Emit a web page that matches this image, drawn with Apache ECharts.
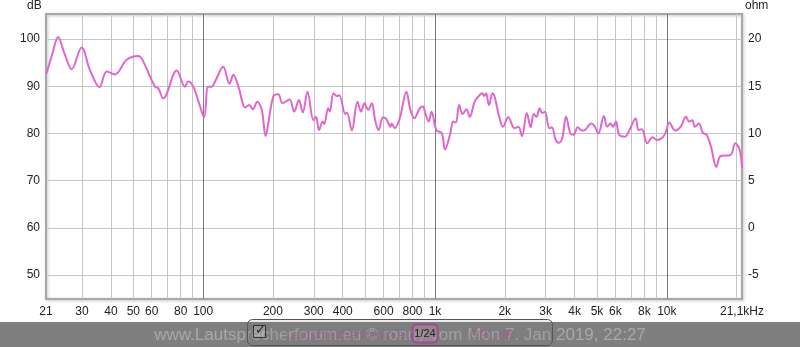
<!DOCTYPE html>
<html>
<head>
<meta charset="utf-8">
<title>Frequenzgang</title>
<script src="https://cdn.jsdelivr.net/npm/echarts@6/dist/echarts.min.js"></script>
<style>
  html, body { margin: 0; padding: 0; background: #fff; }
  #chart { width: 800px; height: 347px; }
</style>
</head>
<body>
<div id="chart"></div>
<script>
// Frequenz (Hz) und Pegel (dB)
var freqs = [21.1, 22.3, 23.7, 25.2, 27.1, 29.9, 32.5, 35.7, 38.4, 41.7, 46.8, 52.5, 54.3, 62, 64, 67.3, 76.9, 83.5, 86.3, 90.7,
  96, 101, 105, 109, 112.6, 122, 130, 135, 142, 152, 158, 164, 171, 179, 186, 191, 201, 211, 220, 236,
  247, 259, 269, 282, 299, 307, 316, 328, 333, 346, 352, 365, 377, 387, 410, 417, 438, 463, 480, 496,
  515, 534, 552, 571, 597, 617, 643, 650, 671, 705, 753, 783, 815, 859, 888, 908, 940, 966, 1016, 1069,
  1105, 1161, 1200, 1230, 1272, 1315, 1367, 1413, 1483, 1556, 1600, 1630, 1661, 1710, 1770, 1909, 1963, 2069, 2205, 2290,
  2373, 2490, 2585, 2669, 2740, 2827, 2900, 2982, 3110, 3190, 3318, 3425, 3540, 3675, 3835, 3959, 4127, 4290, 4430, 4719,
  4870, 5069, 5353, 5530, 5720, 5860, 6036, 6228, 6600, 6930, 7335, 7550, 7810, 8229, 8690, 9064, 9513, 9850, 10258, 10857,
  11470, 12100, 12470, 12890, 13210, 13750, 14300, 14850, 15500, 16360, 17070, 18810, 19740, 20620, 21100];
var spl = [92.7, 96.6, 100.4, 97, 93.6, 98.2, 93.4, 89.8, 93.1, 92.5, 95.6, 96.4, 95.9, 89.9, 89.6, 87.4, 93.3, 89.9, 91, 89.9,
  86.4, 83.4, 89.9, 89.9, 91, 94.1, 90.5, 92.4, 89.9, 85.5, 86, 85.1, 86.7, 85, 79.4, 82.1, 87.9, 88.3, 86.4, 87.2,
  84.6, 87.1, 84.4, 88.8, 82.8, 83.5, 80.7, 82.5, 82, 85.3, 84.6, 88.5, 87.9, 88.1, 84.1, 84.4, 80.6, 86.7, 84.6, 86.4,
  85, 86.4, 82.8, 80.7, 83.4, 83, 81.4, 82.1, 81.1, 83.2, 88.8, 85, 83.2, 85.3, 85.7, 84.3, 82.5, 84.6, 80.6, 80.1,
  76.6, 79.7, 82.5, 82.3, 86, 84.1, 85.1, 83.5, 86.7, 88.1, 88.5, 87.9, 88.5, 86, 88.5, 82.8, 81.4, 83.4, 81.1, 81.4,
  79.4, 84.3, 81.3, 84.1, 83.5, 85.3, 84.3, 84.6, 81.1, 81.3, 78.6, 78, 79, 83.6, 80, 79.7, 81.3, 80.6, 80.7, 82.1,
  81.6, 80, 83.7, 81.4, 82.1, 81.4, 82.5, 79.7, 79.3, 80.9, 83.2, 80.7, 80.9, 77.9, 79.2, 78.6, 79, 80, 82.3, 80.6,
  81.4, 83.5, 82.5, 82.8, 81.4, 82.1, 80.1, 79.7, 77.2, 72.9, 75.2, 75.4, 77.9, 76.5, 72.7];

// Achsenbeschriftungen
var xLabelValues = [21, 30, 40, 50, 60, 80, 100, 200, 300, 400, 600, 800, 1000, 2000, 3000, 4000, 5000, 6000, 8000, 10000, 21100];
var xGridValues = [30, 40, 50, 60, 70, 80, 90, 200, 300, 400, 500, 600, 700, 800, 900, 2000, 3000, 4000, 5000, 6000, 7000, 8000, 9000, 20000];
var xDecades = [100, 1000, 10000];
var dbTicks = [50, 60, 70, 80, 90, 100];
var ohmTicks = [-5, 0, 5, 10, 15, 20];

var dbMin = 44.9, dbMax = 105.3;

var chart = echarts.init(document.getElementById('chart'));

var points = [];
for (var i = 0; i < freqs.length; i++) {
    points.push([freqs[i], spl[i]]);
}

var font = 'Liberation Sans, Arial, sans-serif';

var option = {
    animation: false,
    grid: {
        left: 46, right: 58, top: 14, bottom: 48,
        show: true,
        borderColor: '#a8a8a8',
        borderWidth: 2,
        shadowColor: 'rgba(0,0,0,0.25)',
        shadowBlur: 3,
        shadowOffsetX: 1,
        shadowOffsetY: 1
    },
    xAxis: [
        {
            type: 'log', min: 21, max: 21100,
            axisLine: { show: false },
            axisTick: { show: false, customValues: xGridValues },
            axisLabel: {
                customValues: xLabelValues,
                margin: 7,
                color: '#222',
                fontSize: 12,
                fontFamily: font,
                formatter: function (v) {
                    if (v > 21000) return '21,1kHz';
                    if (v >= 1000) return (v / 1000) + 'k';
                    return String(Math.round(v));
                }
            },
            splitLine: { show: true, lineStyle: { color: '#c4c4c4', width: 1 } }
        },
        {
            type: 'log', min: 21, max: 21100,
            position: 'bottom',
            axisLine: { show: false },
            axisTick: { show: false, customValues: xDecades },
            axisLabel: { show: false },
            splitLine: { show: true, lineStyle: { color: '#7a7a7a', width: 1 } }
        }
    ],
    yAxis: [
        {
            type: 'value', min: dbMin, max: dbMax,
            axisLine: { show: false },
            axisTick: { show: false, customValues: dbTicks },
            axisLabel: { customValues: dbTicks, margin: 6, color: '#222', fontSize: 12, fontFamily: font },
            splitLine: { show: true, lineStyle: { color: '#c4c4c4', width: 1 } }
        },
        {
            type: 'value', min: (dbMin - 60) / 2, max: (dbMax - 60) / 2,
            position: 'right',
            axisLine: { show: false },
            axisTick: { show: false, customValues: ohmTicks },
            axisLabel: { customValues: ohmTicks, margin: 6, color: '#222', fontSize: 12, fontFamily: font },
            splitLine: { show: false }
        }
    ],
    series: [
        {
            name: 'SPL',
            type: 'line',
            data: points,
            smooth: 0.35,
            showSymbol: false,
            lineStyle: { color: '#e066cc', width: 2 },
            itemStyle: { color: '#e066cc' }
        }
    ],
    graphic: [
        { type: 'text', left: 27, top: 0, style: { text: 'dB', fill: '#222', font: '12px ' + font } },
        { type: 'text', left: 745, top: 0, style: { text: 'ohm', fill: '#222', font: '12px ' + font } },
        { type: 'rect', shape: { x: 0, y: 322, width: 800, height: 25 }, style: { fill: '#7f7f7f' }, z: 10 },
        {
            type: 'text', x: 400, y: 335, z: 11,
            style: {
                text: 'www.Lautsprecherforum.eu © ronny vom Mon 7. Jan 2019, 22:27',
                fill: '#a9a9a9', font: '17px ' + font, align: 'center', verticalAlign: 'middle'
            }
        },
        {
            type: 'rect', z: 12,
            shape: { x: 247.5, y: 319.5, width: 305, height: 26, r: 5 },
            style: { fill: 'rgba(120,120,120,0.15)', stroke: '#555', lineWidth: 1 }
        },
        {
            type: 'rect', z: 13,
            shape: { x: 253.5, y: 325.5, width: 12, height: 12 },
            style: { fill: 'rgba(255,255,255,0.2)', stroke: '#333', lineWidth: 1 }
        },
        {
            type: 'text', x: 255, y: 331, z: 14,
            style: { text: '✓', fill: '#222', font: 'bold 13px DejaVu Sans', verticalAlign: 'middle' }
        },
        {
            type: 'text', x: 285, y: 335, z: 13,
            style: { text: 'Lautsprecherforum.eu', fill: 'rgba(170,80,150,0.55)', font: '13px ' + font, verticalAlign: 'middle' }
        },
        {
            type: 'rect', z: 13,
            shape: { x: 412.5, y: 324.5, width: 25, height: 18, r: 4 },
            style: { fill: 'rgba(170,140,160,0.5)', stroke: '#a04a90', lineWidth: 2 }
        },
        {
            type: 'text', x: 425, y: 334, z: 14,
            style: { text: '1/24', fill: '#222', font: '11px ' + font, align: 'center', verticalAlign: 'middle' }
        },
        {
            type: 'text', x: 470, y: 335, z: 13,
            style: { text: 'SPL dB', fill: 'rgba(170,80,150,0.55)', font: '13px ' + font, verticalAlign: 'middle' }
        }
    ]
};

chart.setOption(option);
</script>
</body>
</html>
